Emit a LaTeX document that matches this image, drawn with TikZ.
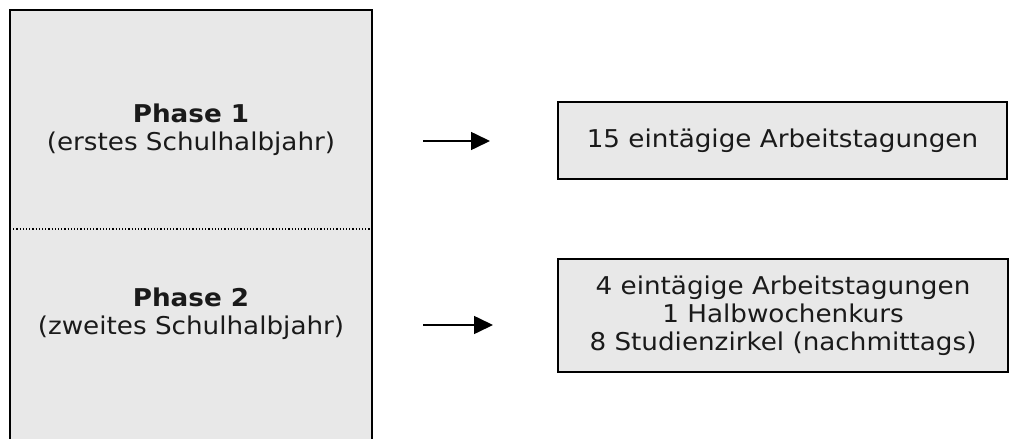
\documentclass[tikz,border=0pt]{standalone}
\usepackage{fontspec}
\setmainfont{DejaVu Sans}[FakeStretch=1.07]
\usetikzlibrary{arrows.meta}
\definecolor{boxgray}{HTML}{E8E8E8}
\definecolor{txtcol}{HTML}{1A1A1A}
\tikzset{
  graybox/.style={draw=black, line width=2pt, fill=boxgray, rectangle, inner sep=0pt},
  txt/.style={align=center, text=txtcol, font=\fontsize{24.5}{28}\selectfont, inner sep=0pt},
  arr/.style={line width=1.6pt, -{Triangle[length=19pt,width=18pt]}},
}
\begin{document}
\begin{tikzpicture}[x=1pt,y=-1pt]
\clip (0,0) rectangle (1031,439);
\fill[white] (0,0) rectangle (1031,439);
% left phase box (open at bottom)
\node[graybox, minimum width=362pt, minimum height=450pt] (left) at (191,235) {};
\coordinate (dl) at (10,229);
\coordinate (dr) at (372,229);
\draw[line width=1.2pt, dotted] (dl) -- (dr);
\node[txt] (p1) at (191,130) {\textbf{Phase 1}\\(erstes Schulhalbjahr)};
\node[txt] (p2) at (191,314) {\textbf{Phase 2}\\(zweites Schulhalbjahr)};
% right boxes
\node[graybox, minimum width=449pt, minimum height=77pt] (b1) at (782.5,140.5) {};
\node[txt] (t1) at (b1.center) {15 eintägige Arbeitstagungen};
\node[graybox, minimum width=450pt, minimum height=113pt] (b2) at (783,315.5) {};
\node[txt] (t2) at (b2.center) {4 eintägige Arbeitstagungen\\1 Halbwochenkurs\\8 Studienzirkel (nachmittags)};
% arrows
\coordinate (a1s) at (423,141);
\coordinate (a1e) at (490,141);
\coordinate (a2s) at (423,325);
\coordinate (a2e) at (493,325);
\draw[arr] (a1s) -- (a1e);
\draw[arr] (a2s) -- (a2e);
\end{tikzpicture}
\end{document}
